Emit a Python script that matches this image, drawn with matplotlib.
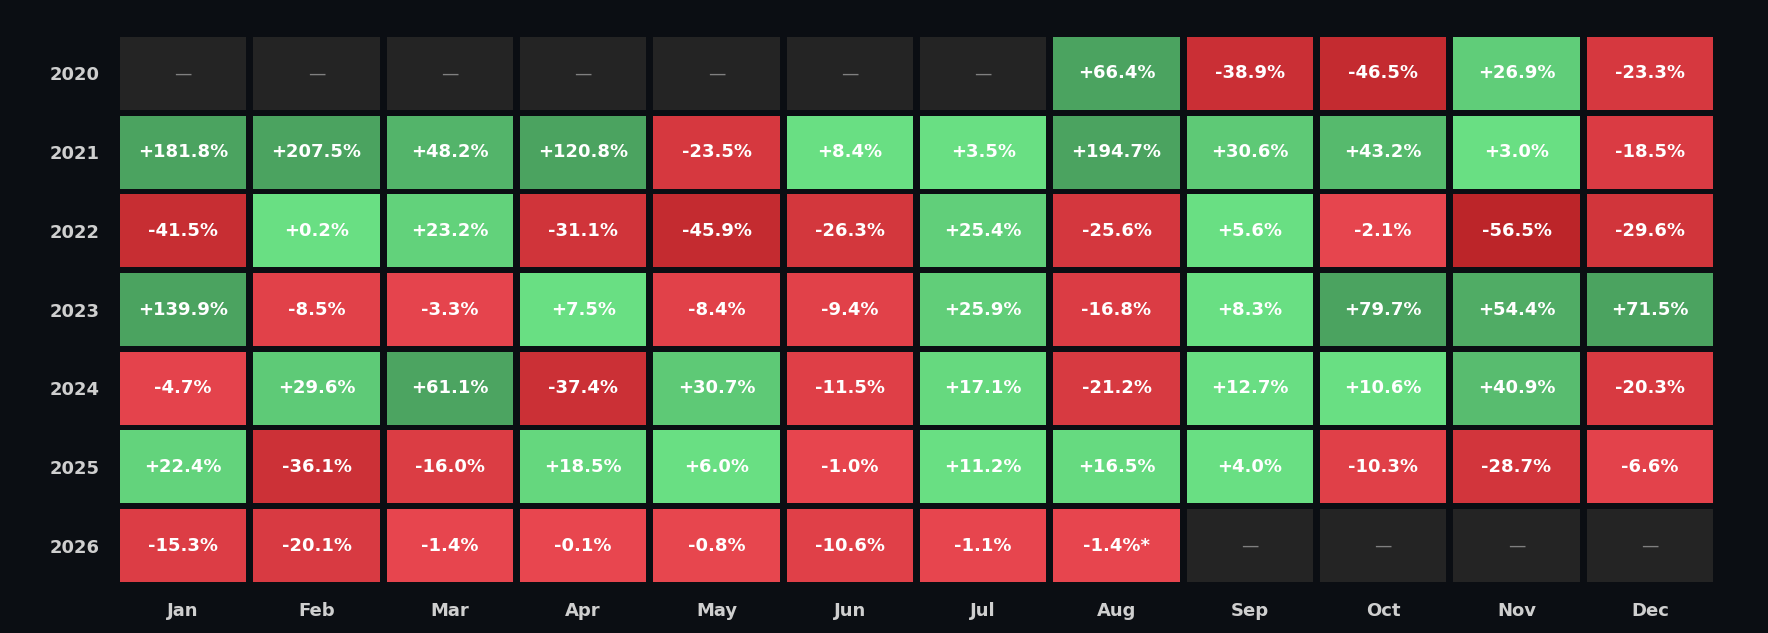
import numpy as np
import matplotlib.pyplot as plt
from matplotlib.patches import Rectangle
from matplotlib.colors import to_rgb

# monthly returns, % (nan = no data)
years = ["2020", "2021", "2022", "2023", "2024", "2025", "2026"]
months = ["Jan", "Feb", "Mar", "Apr", "May", "Jun",
          "Jul", "Aug", "Sep", "Oct", "Nov", "Dec"]
nan = np.nan
r2020 = [nan, nan, nan, nan, nan, nan, nan, 66.4, -38.9, -46.5, 26.9, -23.3]
r2021 = [181.8, 207.5, 48.2, 120.8, -23.5, 8.4, 3.5, 194.7, 30.6, 43.2, 3.0, -18.5]
r2022 = [-41.5, 0.2, 23.2, -31.1, -45.9, -26.3, 25.4, -25.6, 5.6, -2.1, -56.5, -29.6]
r2023 = [139.9, -8.5, -3.3, 7.5, -8.4, -9.4, 25.9, -16.8, 8.3, 79.7, 54.4, 71.5]
r2024 = [-4.7, 29.6, 61.1, -37.4, 30.7, -11.5, 17.1, -21.2, 12.7, 10.6, 40.9, -20.3]
r2025 = [22.4, -36.1, -16.0, 18.5, 6.0, -1.0, 11.2, 16.5, 4.0, -10.3, -28.7, -6.6]
r2026 = [-15.3, -20.1, -1.4, -0.1, -0.8, -10.6, -1.1, -1.4, nan, nan, nan, nan]
partial_cell = ("2026", "Aug")  # month still running, marked with *

rows = [r2020, r2021, r2022, r2023, r2024, r2025, r2026]

BG = "#0b0e13"
EMPTY = "#242424"


def mix(c1, c2, t):
    a, b = np.array(to_rgb(c1)), np.array(to_rgb(c2))
    return tuple(a + (b - a) * t)


def cell_color(v):
    if np.isnan(v):
        return EMPTY
    if v >= 0:
        t = np.clip((v - 12) / 50, 0, 1)
        return mix("#69df83", "#4ba360", t)
    t = np.clip((-v) / 60, 0, 1)
    return mix("#e8464f", "#b92327", t)


fig = plt.figure(figsize=(17.68, 6.33), dpi=100, facecolor=BG)
ax = fig.add_axes([0.0659, 0.0758, 0.905, 0.8705])
ax.set_facecolor(BG)

cw, ch = 0.947, 0.927
for i, (yr, vals) in enumerate(zip(years, rows)):
    for j, (m, v) in enumerate(zip(months, vals)):
        ax.add_patch(Rectangle((j - cw / 2, i - ch / 2), cw, ch,
                               facecolor=cell_color(v), edgecolor="none"))
        if np.isnan(v):
            ax.text(j, i, "\u2014", ha="center", va="center",
                    color="#808080", fontsize=12.5)
        else:
            lbl = f"{v:+.1f}%"
            if (yr, m) == partial_cell:
                lbl += "*"
            ax.text(j, i, lbl, ha="center", va="center", color="white",
                    fontsize=13, fontweight="bold")

ax.set_xlim(-0.5, 11.5)
ax.set_ylim(6.5, -0.5)
ax.set_xticks(range(12))
ax.set_xticklabels(months)
ax.set_yticks(range(7))
ax.set_yticklabels(years)
ax.tick_params(length=0, colors="#cfcfcf", labelsize=13)
ax.tick_params(axis="x", pad=12)
ax.tick_params(axis="y", pad=12)
for lab in ax.get_xticklabels() + ax.get_yticklabels():
    lab.set_fontweight("bold")
for s in ax.spines.values():
    s.set_visible(False)

fig.savefig("out.png", dpi=100, facecolor=BG)
